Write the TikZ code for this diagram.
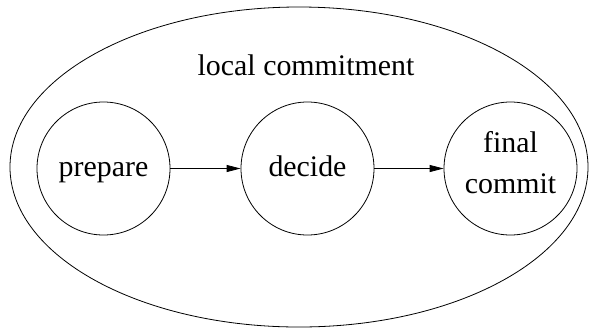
\documentclass[tikz,border=0pt]{standalone}
\usepackage{fontspec}
\setmainfont{Liberation Serif}
\usetikzlibrary{arrows.meta,shapes.geometric}
\begin{document}
\begin{tikzpicture}[x=1bp,y=-1bp,
  every node/.style={font=\fontsize{30}{41.6}\selectfont},
  cluster/.style={draw,ellipse,line width=0.8bp,inner sep=0pt,minimum width=578bp,minimum height=320bp},
  state/.style={draw,circle,line width=0.8bp,inner sep=0pt,minimum size=133bp,align=center,
                text height=22.5bp,text depth=7.5bp},
  multistate/.style={draw,circle,line width=0.8bp,inner sep=0pt,minimum size=133bp,align=center},
  flow/.style={-{Triangle[length=14bp,width=7bp]},line width=0.8bp}]
  \path[use as bounding box] (0,0) rectangle (595,329);

  % enclosing cluster and its title
  \node[cluster] (local) at (299,167) {};
  \node[anchor=base] (title) at (306,75) {local commitment};

  % the three phases
  \node[state] (prepare) at (103.5,168.5) {prepare};
  \node[state] (decide) at (307.5,168.5) {decide};
  \node[multistate] (final) at (510.5,168.5) {final\\commit\rule[-12bp]{0pt}{12bp}};

  % transitions
  \draw[flow] (prepare) -- (decide);
  \draw[flow] (decide) -- (final);
\end{tikzpicture}
\end{document}
